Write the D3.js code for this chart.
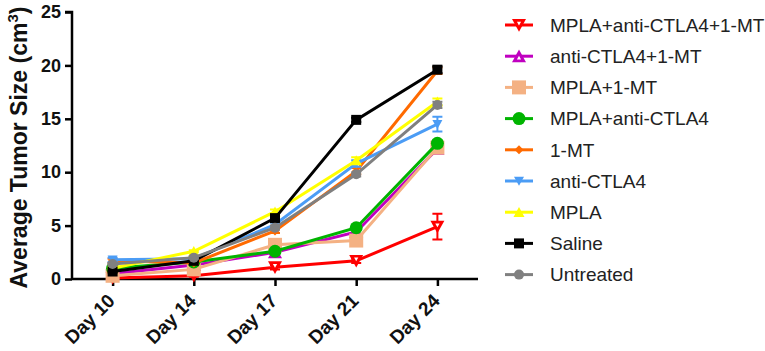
<!DOCTYPE html>
<html>
<head>
<meta charset="utf-8">
<script src="https://cdn.jsdelivr.net/npm/d3@7"></script>
<style>
  body { margin: 0; background: #fff; }
  svg { display: block; font-family: Arial, "Liberation Sans", sans-serif; }
</style>
</head>
<body>
<svg id="chart" width="765" height="351"></svg>
<script>
const days = ['Day 10', 'Day 14', 'Day 17', 'Day 21', 'Day 24'];
const yTicks = [0, 5, 10, 15, 20, 25];

const seriesNames = ['MPLA+anti-CTLA4+1-MT', 'anti-CTLA4+1-MT', 'MPLA+1-MT', 'MPLA+anti-CTLA4',
                     '1-MT', 'anti-CTLA4', 'MPLA', 'Saline', 'Untreated'];
const seriesColors = ['#ff0000', '#c000c0', '#f4b183', '#00b400', '#ff6a00', '#4b9cf5', '#ffff00', '#000000', '#808080'];
const seriesShapes = ['triDown', 'triUp', 'square', 'circle', 'diamond', 'triDown', 'triUp', 'square', 'circle'];
const seriesSizes  = [14, 14, 14, 13, 9, 10, 11, 10, 10];
const seriesHollow = [true, true, false, false, false, false, false, false, false];

const redVals    = [0.1, 0.3, 1.1, 1.7, 4.9];
const purpleVals = [0.5, 1.3, 2.5, 4.4, 12.2];
const tanVals    = [0.3, 0.9, 3.2, 3.6, 12.3];
const greenVals  = [1.0, 1.6, 2.6, 4.8, 12.7];
const orangeVals = [1.7, 1.5, 4.5, 10.1, 19.5];
const blueVals   = [1.8, 1.9, 5.1, 10.8, 14.5];
const yellowVals = [1.0, 2.6, 6.3, 11.1, 16.6];
const blackVals  = [0.7, 1.7, 5.7, 14.9, 19.6];
const grayVals   = [1.4, 2.0, 4.8, 9.8, 16.3];

const redErr    = [0.1, 0.1, 0.2, 0.2, 1.2];
const purpleErr = [0.1, 0.1, 0.2, 0.3, 0.3];
const tanErr    = [0.1, 0.1, 0.2, 0.2, 0.2];
const greenErr  = [0.1, 0.1, 0.2, 0.2, 0.3];
const orangeErr = [0.2, 0.1, 0.2, 0.3, 0.3];
const blueErr   = [0.2, 0.1, 0.2, 0.3, 0.7];
const yellowErr = [0.1, 0.1, 0.2, 0.3, 0.3];
const blackErr  = [0.1, 0.1, 0.2, 0.2, 0.3];
const grayErr   = [0.1, 0.1, 0.2, 0.2, 0.3];

const allVals = [redVals, purpleVals, tanVals, greenVals, orangeVals, blueVals, yellowVals, blackVals, grayVals];
const allErrs = [redErr, purpleErr, tanErr, greenErr, orangeErr, blueErr, yellowErr, blackErr, grayErr];

const series = seriesNames.map((name, i) => ({
  name, color: seriesColors[i], shape: seriesShapes[i], size: seriesSizes[i], hollow: seriesHollow[i],
  data: days.map((d, j) => ({ x: d, y: allVals[i][j], e: allErrs[i][j] }))
}));

const svg = d3.select('#chart');
const x0 = 72, x1 = 478, yTop = 12, yBot = 279;

const x = d3.scalePoint().domain(days).range([x0, x1]).padding(0.5);
const y = d3.scaleLinear().domain([0, 25]).range([yBot, yTop]);

function symbolPath(shape, s) {
  const h = s / 2;
  if (shape === 'triDown') return `M${-h},${-h * 0.85}L${h},${-h * 0.85}L0,${h * 0.95}Z`;
  if (shape === 'triUp')   return `M${-h},${h * 0.85}L${h},${h * 0.85}L0,${-h * 0.95}Z`;
  if (shape === 'square')  return `M${-h},${-h}H${h}V${h}H${-h}Z`;
  if (shape === 'diamond') return `M0,${-h}L${h},0L0,${h}L${-h},0Z`;
  return d3.symbol(d3.symbolCircle, Math.PI * h * h)();
}

function drawMarker(sel, s) {
  sel.append('path').attr('fill', s.color).attr('d', symbolPath(s.shape, s.size));
  if (s.hollow) {
    sel.append('path').attr('fill', '#fff')
      .attr('transform', `translate(0,${s.shape === 'triDown' ? -1.5 : 1.5})`)
      .attr('d', symbolPath(s.shape, s.size * 0.3));
  }
}

// axes
const yAxis = d3.axisLeft(y).tickValues(yTicks).tickSize(7).tickPadding(4);
const gy = svg.append('g').attr('transform', `translate(${x0},0)`).call(yAxis);
gy.select('.domain').attr('stroke', '#000').attr('stroke-width', 2.5).attr('d', `M-7,${yTop}H0V${yBot}`);
gy.selectAll('.tick line').attr('stroke', '#000').attr('stroke-width', 2.5);
gy.selectAll('.tick text').attr('font-size', 18).attr('font-weight', 'bold').attr('fill', '#111');

const xAxis = d3.axisBottom(x).tickSize(7).tickSizeOuter(0);
const gx = svg.append('g').attr('transform', `translate(0,${yBot})`).call(xAxis);
gx.select('.domain').attr('stroke', '#000').attr('stroke-width', 2.5).attr('d', `M${x0},0H${x1}`);
gx.selectAll('.tick line').attr('stroke', '#000').attr('stroke-width', 2.5);
gx.selectAll('.tick text')
  .attr('font-size', 19).attr('font-weight', 'bold').attr('fill', '#111')
  .attr('text-anchor', 'end').attr('x', 0).attr('y', 0).attr('dy', null)
  .attr('transform', 'translate(3,23) rotate(-45)');

svg.append('text')
  .attr('transform', `translate(27,${(yTop + yBot) / 2 + 2}) rotate(-90)`)
  .attr('text-anchor', 'middle')
  .attr('font-size', 23).attr('font-weight', 'bold').attr('fill', '#111')
  .html('Average Tumor Size (cm<tspan dy="-9" font-size="15">3</tspan><tspan dy="9">)</tspan>');

// series
const line = d3.line().x(d => x(d.x)).y(d => y(d.y));
const plot = svg.append('g');

series.forEach(s => {
  const g = plot.append('g');
  g.selectAll('.err').data(s.data).join('path')
    .attr('fill', 'none').attr('stroke', s.color).attr('stroke-width', 2)
    .attr('d', d => {
      const cx = x(d.x), t = y(d.y + d.e), b = y(d.y - d.e);
      return `M${cx - 5},${t}H${cx + 5}M${cx},${t}V${b}M${cx - 5},${b}H${cx + 5}`;
    });
  g.append('path').datum(s.data)
    .attr('fill', 'none').attr('stroke', s.color).attr('stroke-width', 3)
    .attr('d', line);
  g.selectAll('.pt').data(s.data).join('g')
    .attr('transform', d => `translate(${x(d.x)},${y(d.y)})`)
    .each(function () { drawMarker(d3.select(this), s); });
});

// legend
const legend = svg.append('g').attr('transform', 'translate(505,25)');
series.forEach((s, i) => {
  const row = legend.append('g').attr('transform', `translate(0,${i * 31.2})`);
  row.append('line').attr('x1', 0).attr('x2', 28).attr('stroke', s.color).attr('stroke-width', 3);
  drawMarker(row.append('g').attr('transform', 'translate(14,0)'), s);
  row.append('text').attr('x', 45).attr('dy', '0.36em')
    .attr('font-size', 19).attr('fill', '#222').text(s.name);
});
</script>
</body>
</html>
